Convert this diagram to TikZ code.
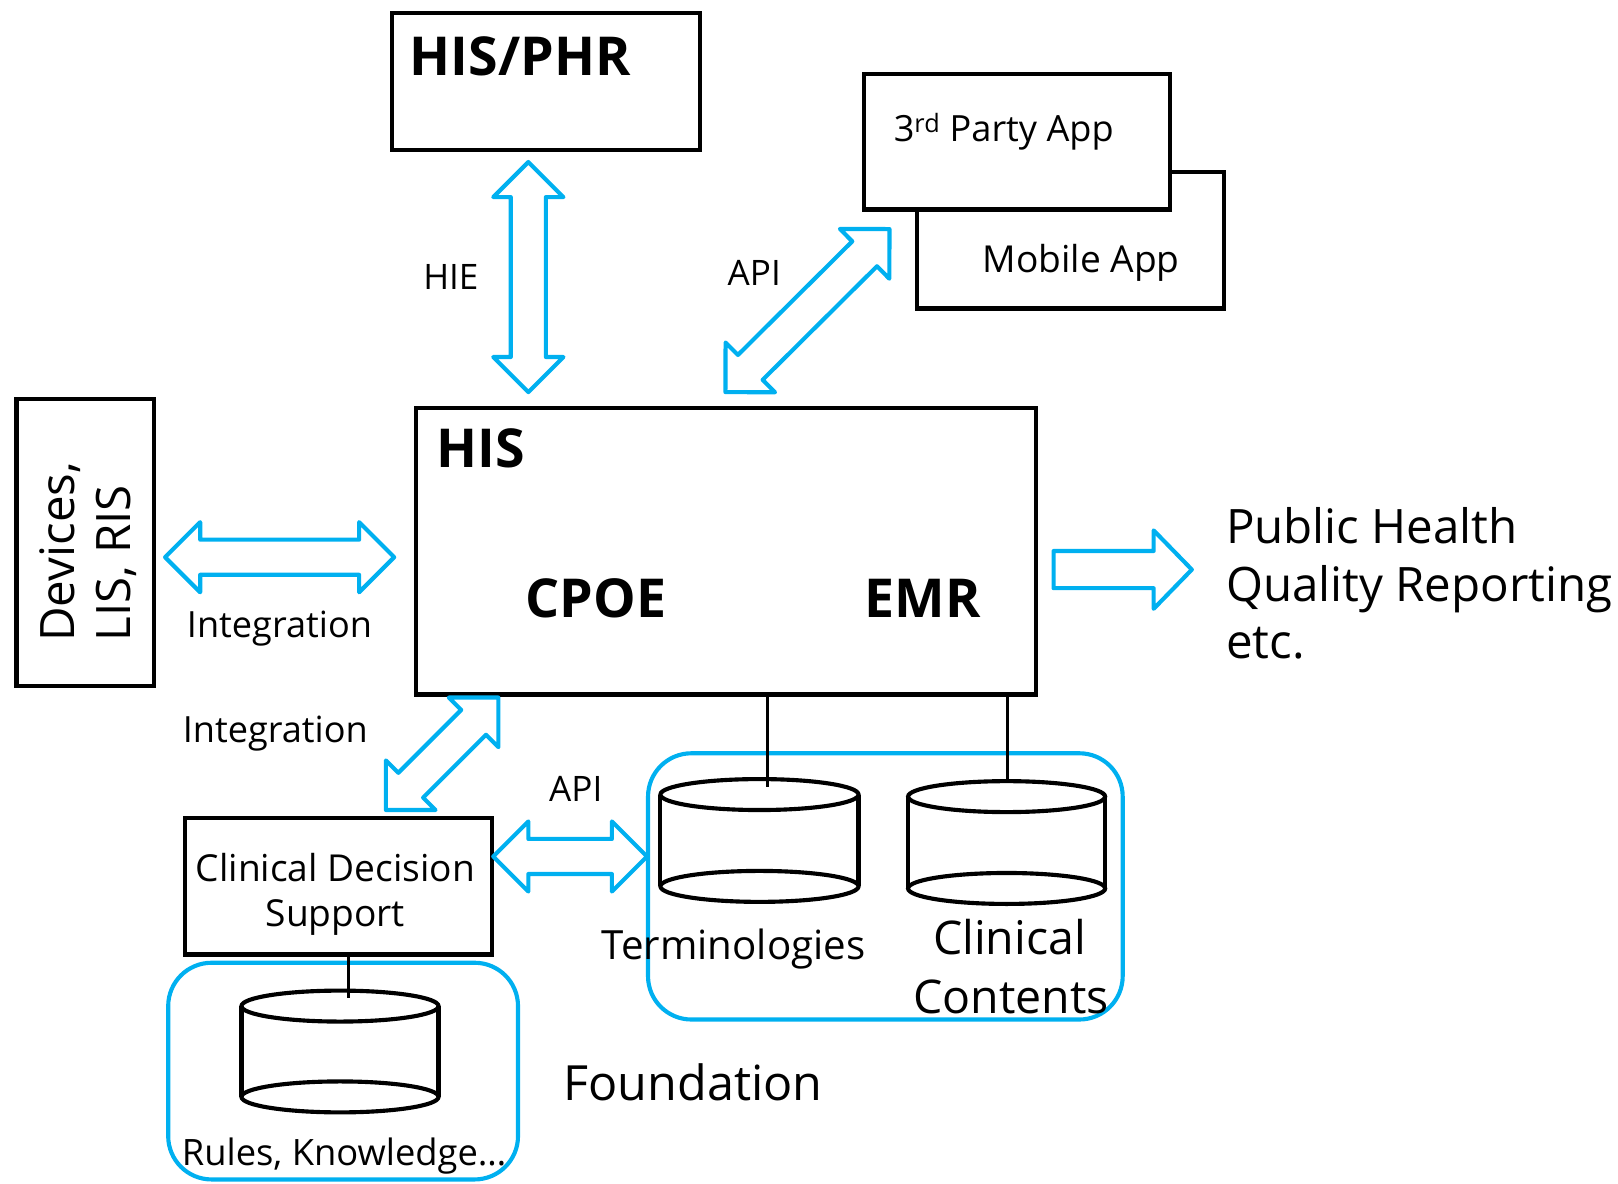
\documentclass[tikz,border=0pt]{standalone}
\usepackage{fontspec}
\setmainfont{Open Sans}
\usetikzlibrary{calc}
\definecolor{fblue}{HTML}{00B0F0}
\newcommand\fs[1]{\fontsize{#1}{#1}\selectfont}
\def\hal{34pt}\def\haw{17pt}\def\hah{34pt}
\newcommand\hollowarrow[2]{%
  \path ($(#1)!\hal!(#2)$) coordinate (ha1) ($(#2)!\hal!(#1)$) coordinate (ha2);
  \draw[hollow] (#1) -- ($(ha1)!\hah!90:(#2)$) -- ($(ha1)!\haw!90:(#2)$)
    -- ($(ha2)!\haw!-90:(#1)$) -- ($(ha2)!\hah!-90:(#1)$) -- (#2)
    -- ($(ha2)!\hah!90:(#1)$) -- ($(ha2)!\haw!90:(#1)$)
    -- ($(ha1)!\haw!-90:(#2)$) -- ($(ha1)!\hah!-90:(#2)$) -- cycle;}
\newcommand\cyl[5]{% name, cx, topy, boty, rx
  \coordinate (#1) at (#2,#3);
  \draw[cylline] (#2-#5,#3) -- (#2-#5,#4) (#2+#5,#3) -- (#2+#5,#4);
  \draw[cylline] (#2,#3) ellipse [x radius=#5pt, y radius=15pt];
  \draw[cylline] (#2,#4) ellipse [x radius=#5pt, y radius=15pt];}
\begin{document}
\begin{tikzpicture}[x=1pt,y=-1pt,
  box/.style={draw, line width=4pt, fill=white, inner sep=0pt, anchor=north west},
  blk/.style={line width=3pt},
  cylline/.style={line width=4pt},
  hollow/.style={draw=fblue, line width=4pt, line join=round, fill=white},
  fnd/.style={draw=fblue, line width=4pt, rounded corners=42pt},
  lbl/.style={inner sep=0pt, anchor=base west}]
\useasboundingbox (0,0) rectangle (1568,1147);

% boxes
\node[box, minimum width=298pt, minimum height=132pt] (phr) at (378,11) {};
\node[box, minimum width=297pt, minimum height=132pt] (mobile) at (887,165) {};
\node[box, minimum width=297pt, minimum height=131pt] (third) at (835,70) {};
\node[box, minimum width=601pt, minimum height=278pt] (his) at (401,393) {};
\node[box, minimum width=133pt, minimum height=278pt] (dev) at (14,385) {};
\node[box, minimum width=298pt, minimum height=132pt] (cds) at (177,791) {};

% foundation groups
\draw[fnd] (163,933) rectangle (502,1143);
\draw[fnd] (628,730) rectangle (1088,988);

% cylinders
\cyl{rules}{329.5}{975}{1063}{95.5}
\cyl{term}{736}{770}{859}{96}
\cyl{clin}{975.5}{772}{861}{95.5}

% connectors
\coordinate (rulestop) at (338,967);
\coordinate (termtop) at (744,763);
\coordinate (clintop) at (976,757);
\draw[blk] (cds.south -| rulestop) -- (rulestop);
\draw[blk] (his.south -| termtop) -- (termtop);
\draw[blk] (his.south -| clintop) -- (clintop);

% hollow arrows
\coordinate (hieA) at (512,157); \coordinate (hieB) at (512,380);
\coordinate (apiA) at (703,380); \coordinate (apiB) at (862,222);
\coordinate (intA) at (160,540); \coordinate (intB) at (382,540);
\coordinate (int2A) at (374,785); \coordinate (int2B) at (483,676);
\coordinate (api2A) at (478,830); \coordinate (api2B) at (627,830);
\hollowarrow{hieA}{hieB}
\hollowarrow{apiA}{apiB}
\hollowarrow{intA}{intB}
\hollowarrow{int2A}{int2B}
\hollowarrow{api2A}{api2B}
\coordinate (phA) at (1021,552); \coordinate (phB) at (1155,552);
\draw[hollow] (1021,534) -- (1118,534) -- (1118,514) -- (phB) -- (1118,590) -- (1118,570) -- (1021,570) -- cycle;

% texts
\node[lbl, font=\fs{52}\bfseries] (tphr) at (397,73) {HIS/PHR};
\node[lbl, font=\fs{35}] (tthird) at (866,137) {3\textsuperscript{rd} Party App};
\node[lbl, font=\fs{36}] (tmobile) at (952,264) {Mobile App};
\node[lbl, font=\fs{34}] (thie) at (410,281) {HIE};
\node[lbl, font=\fs{34}] (tapi) at (705,277) {API};
\node[lbl, font=\fs{52}\bfseries] (this) at (423,453) {HIS};
\node[lbl, font=\fs{52}\bfseries] (tcpoe) at (509,598) {CPOE};
\node[lbl, font=\fs{52}\bfseries] (temr) at (838,598) {EMR};
\node[lbl, font=\fs{46}, rotate=90] (tdev1) at (72,622) {Devices,};
\node[lbl, font=\fs{46}, rotate=90] (tdev2) at (126,622) {LIS, RIS};
\node[lbl, font=\fs{35}] (tint1) at (181,618) {Integration};
\node[lbl, font=\fs{35}] (tint2) at (177,720) {Integration};
\node[lbl, font=\fs{34}] (tapi2) at (532,777) {API};
\node[lbl, font=\fs{46}] (tph1) at (1188,527) {Public Health};
\node[lbl, font=\fs{46}] (tph2) at (1188,583) {Quality Reporting};
\node[lbl, font=\fs{46}] (tph3) at (1188,638) {etc.};
\node[inner sep=0pt, anchor=base, font=\fs{36}] (tcds1) at (325,854) {Clinical Decision};
\node[inner sep=0pt, anchor=base, font=\fs{36}] (tcds2) at (325,898) {Support};
\node[lbl, font=\fs{35.2}] (trules) at (176,1129) {Rules, Knowledge\ldots};
\node[lbl, font=\fs{39}] (tterm) at (583,930) {Terminologies};
\node[lbl, font=\fs{45}] (tclin1) at (904,925) {Clinical};
\node[lbl, font=\fs{45}] (tclin2) at (885,982) {Contents};
\node[lbl, font=\fs{47}] (tfnd) at (546,1066) {Foundation};
\end{tikzpicture}
\end{document}
